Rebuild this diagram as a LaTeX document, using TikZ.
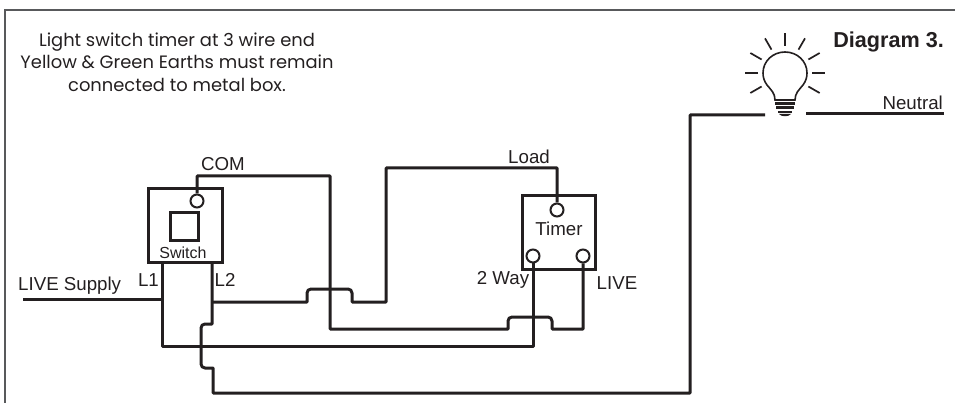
\documentclass[tikz,border=0pt]{standalone}
\usepackage{fontspec}
\setmainfont{Liberation Sans}
\newfontfamily\notefont{Poppins}
\usetikzlibrary{calc}
\definecolor{wirecol}{HTML}{231F20}
\definecolor{framecol}{HTML}{58595B}
\tikzset{
  wire/.style={draw=wirecol, line width=3pt, line join=round},
  unitbox/.style={draw=wirecol, line width=3pt, inner sep=0pt},
  terminal/.style={circle, draw=wirecol, line width=2pt, fill=white, minimum size=13pt, inner sep=0pt},
  label/.style={text=wirecol, inner sep=0pt, font=\fontsize{18.7}{20}\selectfont}
}
\newcommand{\hoptop}{4pt}
\newcommand{\lampray}[1]{ % #1: angle of the ray
  \draw[wirecol, line width=1.7pt] ($(785,73)+(#1:27)$) -- ($(785,73)+(#1:40)$);
}

\begin{document}
\begin{tikzpicture}[x=1pt, y=-1pt]
\useasboundingbox (0,0) rectangle (955,403);

% Outer frame, open at right and bottom
\draw[framecol, line width=2pt] (5,403) -- (5,10) -- (955,10);

% Note and title
\node[text=wirecol, align=center, font=\notefont\fontsize{17.9}{22.5}\selectfont] (note) at (177,62) {Light switch timer at 3 wire end\\Yellow \& Green Earths must remain\\connected to metal box.};
\node[label, font=\fontsize{21.6}{24}\selectfont\bfseries, anchor=east] (title) at (944,42) {Diagram 3.};

% Switch box
\node[unitbox, minimum size=74pt] (switch) at (185,226) {};
\node[unitbox, minimum size=28pt] (rocker) at (184,227) {};
\node[terminal] (com) at (197,201) {};
\node[label, font=\fontsize{16}{18}\selectfont] (switchname) at (183,253) {Switch};

% Timer box
\node[unitbox, minimum size=73pt] (timer) at (558.5,232.5) {};
\node[terminal] (load) at (557,210) {};
\node[terminal] (twoway) at (533,256) {};
\node[terminal] (livein) at (583,256) {};
\node[label] (timername) at (559,229) {Timer};

% Wire ends that are not on a terminal
\coordinate (supply) at (23,299);
\coordinate (Lone) at (162,263);
\coordinate (Ltwo) at (212,263);
\coordinate (lampin) at (765,115);
\coordinate (lampout) at (806,114);
\coordinate (neutral) at (944,114);

% LIVE supply and L1 round to the 2 way terminal
\draw[wire] (supply) -- (Lone |- supply);
\draw[wire] (Lone) -- (162,346) -- (533,346) -- (twoway.south);

% COM to LIVE terminal, hops over the 2 way wire
\draw[wire] (com.north) -- (197,176) -- (330,176) -- (330,329) -- (508,329) [rounded corners=\hoptop] -- (508,317) -- (552,317) [sharp corners] -- (552,329) -- (583,329) -- (livein.south);

% L2 across to Load, hops over the COM wire
\draw[wire] (212,302) -- (307,302) [rounded corners=\hoptop] -- (307,289) -- (352,289) [sharp corners] -- (352,302) -- (386,302) -- (386,168) -- (557,168) -- (load.north);

% L2 down and round to the lamp, hops over the L1 wire
\draw[wire] (Ltwo) -- (212,324) [rounded corners=\hoptop] -- (201,324) -- (201,368) [sharp corners] -- (213,368) -- (213,393) -- (690,393) -- (690,115) -- (lampin);

% Neutral
\draw[wire] (lampout) -- (neutral);

% Lamp
\draw[wirecol, line width=1.6pt] (775,100) .. controls (775,93) and (771,90) .. (767,85) .. controls (764,81) and (763,77) .. (763,73) .. controls (763,61) and (773,52) .. (785,52) .. controls (797,52) and (807,61) .. (807,73) .. controls (807,77) and (806,81) .. (803,85) .. controls (799,90) and (795,93) .. (795,100) -- cycle;
\foreach \a in {-30,0,30,-60,-90,-120,-150,180,150}
{
    \lampray{\a}
}
\draw[wirecol, line width=3pt] (775,104) -- (795,104);
\draw[wirecol, line width=3pt] (776,108) -- (794,108);
\draw[wirecol, line width=2.6pt] (778,112) -- (792,112);
\fill[wirecol] (779,114) -- (791,114) .. controls (789,117) and (781,117) .. (779,114) -- cycle;

% Labels
\node[label, anchor=west] (supplylabel) at (18,286) {LIVE Supply};
\node[label] (Lonelabel) at (148.5,280) {L1};
\node[label] (Ltwolabel) at (225,280) {L2};
\node[label] (comlabel) at (223,164) {COM};
\node[label] (loadlabel) at (529,157) {Load};
\node[label] (twowaylabel) at (503,280) {2 Way};
\node[label] (livelabel) at (617,283) {LIVE};
\node[label, anchor=east] (neutrallabel) at (943,103) {Neutral};

\end{tikzpicture}
\end{document}
